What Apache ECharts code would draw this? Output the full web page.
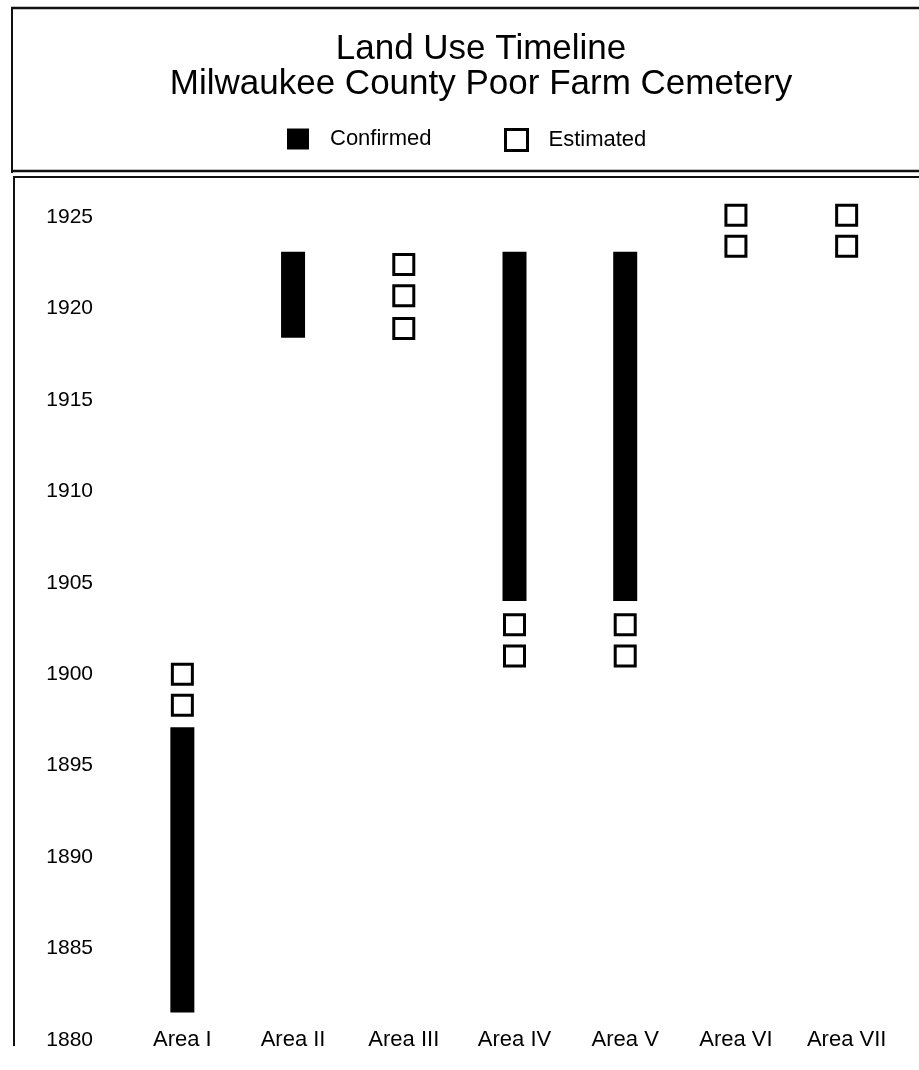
<!DOCTYPE html>
<html>
<head>
<meta charset="utf-8">
<title>Land Use Timeline</title>
<script src="https://cdn.jsdelivr.net/npm/echarts@6/dist/echarts.min.js"></script>
<style>
  html, body { margin: 0; padding: 0; background: #fff; }
  #chart { width: 919px; height: 1070px; }
</style>
</head>
<body>
<div id="chart"></div>
<script>
// areas along the bottom
var areas = ['Area I', 'Area II', 'Area III', 'Area IV', 'Area V', 'Area VI', 'Area VII']
// confirmed use, start / end year per area (null = none)
var confirmedFrom = [1881.5, 1918.4, null, 1904.0, 1904.0, null, null]
var confirmedTo = [1897.1, 1923.1, null, 1923.1, 1923.1, null, null]
// estimated years, one square each
var estimatedArea = ['Area I', 'Area I', 'Area III', 'Area III', 'Area III', 'Area IV', 'Area IV', 'Area V', 'Area V', 'Area VI', 'Area VI', 'Area VII', 'Area VII']
var estimatedYear = [1900.0, 1898.3, 1922.4, 1920.7, 1918.9, 1902.7, 1901.0, 1902.7, 1901.0, 1925.1, 1923.4, 1925.1, 1923.4]
var yearTicks = [1880, 1885, 1890, 1895, 1900, 1905, 1910, 1915, 1920, 1925]

var font = '"Liberation Sans", Arial, Helvetica, sans-serif'

var confirmedData = []
areas.forEach(function (a, i) {
  if (confirmedFrom[i] !== null) {
    confirmedData.push([i, confirmedFrom[i], confirmedTo[i]])
  }
})
var estimatedData = estimatedArea.map(function (a, i) {
  return [a, estimatedYear[i]]
})

var chart = echarts.init(document.getElementById('chart'), null, { renderer: 'canvas' })
chart.setOption({
  animation: false,
  backgroundColor: '#fff',
  title: {
    text: 'Land Use Timeline\nMilwaukee County Poor Farm Cemetery',
    left: 476,
    top: 27,
    textAlign: 'center',
    textStyle: {
      fontFamily: font,
      fontSize: 35,
      fontWeight: 'normal',
      color: '#000',
      lineHeight: 35
    }
  },
  // two legends so each item sits where the original has it
  legend: [{
    left: 282,
    top: 123,
    itemWidth: 22,
    itemHeight: 21,
    data: [{ name: 'Confirmed', icon: 'rect' }],
    textStyle: { fontFamily: font, fontSize: 22, color: '#000', padding: [0, 0, 0, 16] }
  }, {
    left: 499,
    top: 123,
    itemWidth: 22,
    itemHeight: 21,
    data: [{
      name: 'Estimated',
      icon: 'rect',
      itemStyle: { color: '#fff', borderColor: '#000', borderWidth: 3 }
    }],
    textStyle: { fontFamily: font, fontSize: 22, color: '#000', padding: [0, 0, 0, 16] }
  }],
  grid: {
    left: 127,
    right: 17,
    top: 217,
    bottom: 30,
    containLabel: false
  },
  xAxis: {
    type: 'category',
    data: areas,
    boundaryGap: true,
    axisLine: { show: false },
    axisTick: { show: false },
    axisLabel: {
      margin: 0,
      verticalAlign: 'middle',
      fontFamily: font,
      fontSize: 22,
      color: '#000'
    }
  },
  yAxis: {
    type: 'value',
    min: 1880,
    max: 1925,
    interval: 5,
    axisLine: { show: false },
    axisTick: { show: false },
    splitLine: { show: false },
    axisLabel: {
      margin: 34,
      fontFamily: font,
      fontSize: 21,
      color: '#000',
      formatter: function (v) {
        return yearTicks.indexOf(v) >= 0 ? String(v) : ''
      }
    }
  },
  graphic: [
    // frame of the title box
    { type: 'line', shape: { x1: 11, y1: 8, x2: 919, y2: 8 }, style: { stroke: '#111', lineWidth: 2.5 } },
    { type: 'line', shape: { x1: 12, y1: 7, x2: 12, y2: 173 }, style: { stroke: '#111', lineWidth: 2 } },
    { type: 'line', shape: { x1: 11, y1: 171, x2: 919, y2: 171 }, style: { stroke: '#111', lineWidth: 2.5 } },
    // frame of the plot box
    { type: 'line', shape: { x1: 13, y1: 177, x2: 919, y2: 177 }, style: { stroke: '#111', lineWidth: 2 } },
    { type: 'line', shape: { x1: 14, y1: 176, x2: 14, y2: 1046 }, style: { stroke: '#111', lineWidth: 2 } }
  ],
  series: [{
    name: 'Confirmed',
    type: 'custom',
    clip: false,
    itemStyle: { color: '#000' },
    renderItem: function (params, api) {
      var top = api.coord([api.value(0), api.value(2)])
      var bottom = api.coord([api.value(0), api.value(1)])
      var w = 24
      return {
        type: 'rect',
        shape: { x: top[0] - w / 2, y: top[1], width: w, height: bottom[1] - top[1] },
        style: { fill: '#000' }
      }
    },
    encode: { x: 0, y: [1, 2] },
    data: confirmedData
  }, {
    name: 'Estimated',
    type: 'scatter',
    clip: false,
    symbol: 'rect',
    symbolSize: 20,
    itemStyle: {
      color: '#fff',
      borderColor: '#000',
      borderWidth: 3,
      opacity: 1 // scatter defaults to 0.8
    },
    data: estimatedData
  }]
})
</script>
</body>
</html>
